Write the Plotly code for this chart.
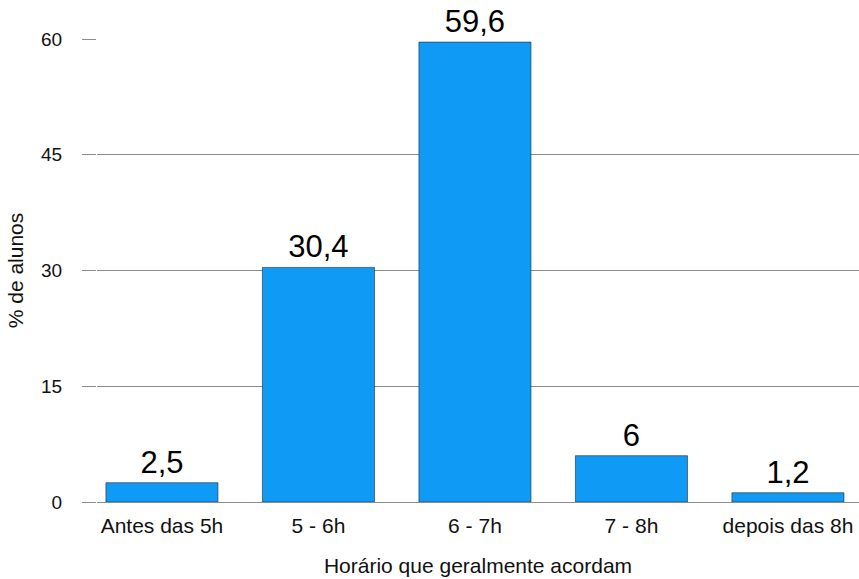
import plotly.graph_objects as go

# Horário em que os alunos geralmente acordam (% de alunos)
categories = ["Antes das 5h", "5 - 6h", "6 - 7h", "7 - 8h", "depois das 8h"]
values = [2.5, 30.4, 59.6, 6, 1.2]
labels = ["2,5", "30,4", "59,6", "6", "1,2"]
y_ticks = [0, 15, 30, 45, 60]

FONT = "Liberation Sans, Arial, Helvetica, sans-serif"
GRID = "#8c8c8c"

fig = go.Figure()
fig.add_trace(go.Bar(
    x=categories,
    y=values,
    text=labels,
    textposition="outside",
    textfont=dict(family=FONT, size=31, color="#000000"),
    cliponaxis=False,
    width=0.716,
    marker=dict(color="#0f9bf5", line=dict(color="rgba(40,40,40,0.6)", width=1)),
    hoverinfo="skip",
))

fig.update_layout(
    width=859,
    height=579,
    margin=dict(l=97, r=0, t=39, b=77),
    paper_bgcolor="white",
    plot_bgcolor="white",
    showlegend=False,
    font=dict(family=FONT, size=21, color="#111111"),
    xaxis=dict(
        range=[-0.415, 4.454],
        showgrid=False,
        showline=False,
        ticks="",
        tickfont=dict(size=21),
        ticklabelstandoff=9,
        title=dict(text="Horário que geralmente acordam", font=dict(size=21), standoff=22),
    ),
    yaxis=dict(
        range=[0, 60],
        tickvals=y_ticks,
        ticktext=[str(v) for v in y_ticks],
        showgrid=True,
        gridcolor=GRID,
        gridwidth=1,
        zeroline=True,
        zerolinecolor=GRID,
        zerolinewidth=1,
        showline=False,
        ticks="outside",
        ticklen=14,
        tickcolor=GRID,
        tickwidth=1,
        ticklabelstandoff=16,
        tickfont=dict(size=19),
        title=dict(text="% de alunos", font=dict(size=21), standoff=11),
    ),
)

fig.write_html("out.html")
